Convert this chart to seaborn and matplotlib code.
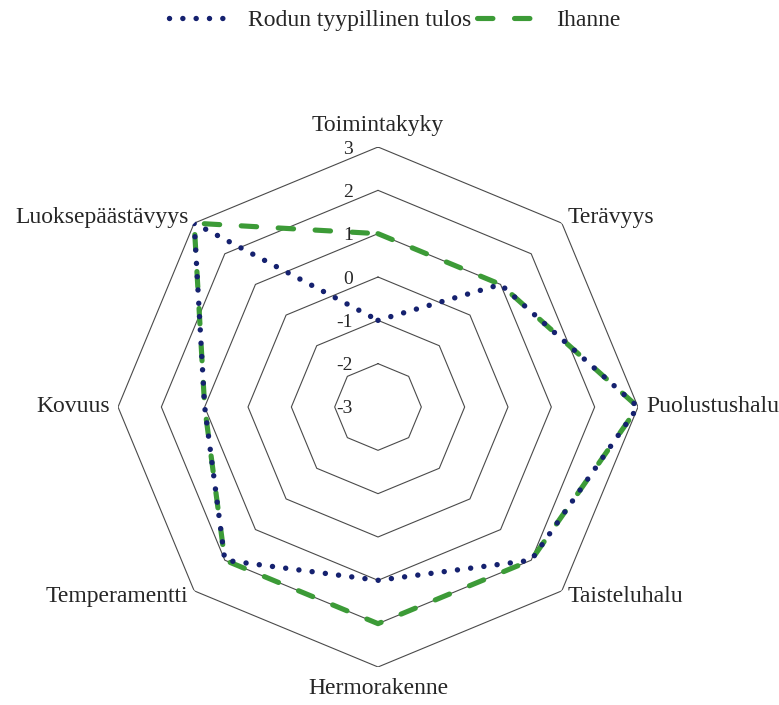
import numpy as np
import pandas as pd
import matplotlib
matplotlib.use("Agg")
import matplotlib.pyplot as plt
import seaborn as sns

# ---- data ----
categories = ["Toimintakyky", "Terävyys", "Puolustushalu", "Taisteluhalu",
              "Hermorakenne", "Temperamentti", "Kovuus", "Luoksepäästävyys"]
typical = [-1, 1, 3, 2, 1, 2, 1, 3]
ideal = [1, 1, 3, 2, 2, 2, 1, 3]
series_names = ["Rodun tyypillinen tulos", "Ihanne"]
ring_values = [-2, -1, 0, 1, 2, 3]
tick_labels = ["3", "2", "1", "0", "-1", "-2", "-3"]
tick_values = [3, 2, 1, 0, -1, -2, -3]

sns.set_theme(style="white")
plt.rcParams["font.family"] = ["Liberation Serif", "DejaVu Serif"]

BLUE = "#15216f"
GREEN = "#3c9b37"
GRID = "#4a4a4a"
TXT = "#262626"

n = len(categories)
theta = np.linspace(0, 2 * np.pi, n, endpoint=False)
theta_c = np.append(theta, 2 * np.pi)

fig = plt.figure(figsize=(7.79, 7.05), dpi=100)
ax = fig.add_axes([0.1515, 0.0539, 0.6675, 0.7376], projection="polar")
ax.set_theta_offset(np.pi / 2)
ax.set_theta_direction(-1)

# octagonal rings
for rv in ring_values:
    ax.plot(theta_c, [rv] * (n + 1), color=GRID, lw=0.8, zorder=1)

df_ideal = pd.DataFrame({"theta": theta_c, "value": ideal + [ideal[0]]})
df_typ = pd.DataFrame({"theta": theta_c, "value": typical + [typical[0]]})

sns.lineplot(data=df_ideal, x="theta", y="value", ax=ax, sort=False, estimator=None,
             color=GREEN, lw=3.7, linestyle=(0, (3.0, 4.2)), dash_capstyle="round",
             label=series_names[1], legend=False, zorder=3)
sns.lineplot(data=df_typ, x="theta", y="value", ax=ax, sort=False, estimator=None,
             color=BLUE, lw=3.9, linestyle=(0, (0.01, 2.45)), dash_capstyle="round",
             label=series_names[0], legend=False, zorder=4)

ax.set_rlim(-3, 3)
ax.grid(False)
ax.spines["polar"].set_visible(False)
ax.set_xticks([])
ax.set_yticks([])
ax.set_xlabel("")
ax.set_ylabel("")
ax.patch.set_alpha(0)

# category labels
for t, lab in zip(theta, categories):
    s, c = np.sin(t), np.cos(t)
    ha = "center" if abs(s) < 0.1 else ("left" if s > 0 else "right")
    va = "center" if abs(c) < 0.8 else ("bottom" if c > 0 else "top")
    d = 11 if abs(c) > 0.8 else 8
    ax.annotate(lab, xy=(t, 3), xytext=(d * s, d * c), textcoords="offset pixels",
                ha=ha, va=va, fontsize=17, color=TXT)

# radial tick labels
for tv, tl in zip(tick_values, tick_labels):
    ax.annotate(tl, xy=(0, tv), xytext=(-25, -2), textcoords="offset pixels",
                ha="right", va="center", fontsize=14, color=TXT)

# legend
lines = {l.get_label(): l for l in ax.get_lines()}
handles = [lines[s] for s in series_names]
fig.legend(handles, series_names, loc="center", bbox_to_anchor=(395 / 779, 1 - 20 / 705),
           ncol=2, frameon=False, fontsize=17, handlelength=2.8, handletextpad=0.55,
           columnspacing=0.25, labelcolor=TXT)

fig.savefig("out.png", dpi=100)
